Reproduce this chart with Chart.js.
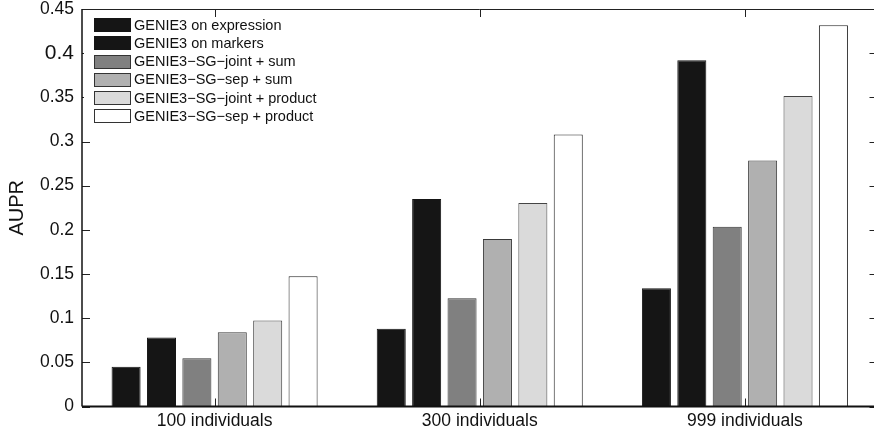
<!DOCTYPE html>
<html lang="en">
<head>
    <meta charset="UTF-8">
    <title>AUPR by number of individuals</title>
    <script src="https://cdn.jsdelivr.net/npm/chart.js"></script>
    <style>
        body { margin: 0; overflow: hidden; background: #fff; }
    </style>
</head>
<body>
<canvas id="aupr" width="886" height="434"></canvas>
<script>
    // Sample sizes on the x axis
    const groups = ['100 individuals', '300 individuals', '999 individuals'];

    // One series per method
    const seriesNames = [
        'GENIE3 on expression',
        'GENIE3 on markers',
        'GENIE3\u2212SG\u2212joint + sum',
        'GENIE3\u2212SG\u2212sep + sum',
        'GENIE3\u2212SG\u2212joint + product',
        'GENIE3\u2212SG\u2212sep + product'
    ];
    const onExpression   = [0.045, 0.088, 0.134];
    const onMarkers      = [0.078, 0.235, 0.392];
    const sgJointSum     = [0.0545, 0.1225, 0.2035];
    const sgSepSum       = [0.084, 0.1895, 0.2785];
    const sgJointProduct = [0.0975, 0.2305, 0.3515];
    const sgSepProduct   = [0.1475, 0.308, 0.4315];

    const yTicks = [0, 0.05, 0.1, 0.15, 0.2, 0.25, 0.3, 0.35, 0.4, 0.45];

    const fills   = ['#151515', '#151515', '#808080', '#b0b0b0', '#dadada', '#ffffff'];
    const borders = ['#151515', '#151515', '#333333', '#3a3a3a', '#444444', '#222222'];
    const FONT = '"Liberation Sans", Arial, Helvetica, sans-serif';

    const values = [onExpression, onMarkers, sgJointSum, sgSepSum, sgJointProduct, sgSepProduct];
    const datasets = values.map((v, i) => ({
        label: seriesNames[i],
        data: v,
        backgroundColor: fills[i],
        borderColor: borders[i],
        borderWidth: 1,
        categoryPercentage: 0.801,
        barPercentage: 0.82
    }));

    // box, inward ticks on all four sides and the legend inside the plot
    const framePlugin = {
        id: 'frame',
        afterDatasetsDraw(chart) {
            const { ctx, chartArea: a, scales: { x, y } } = chart;
            const line = (x1, y1, x2, y2) => {
                ctx.beginPath(); ctx.moveTo(x1, y1); ctx.lineTo(x2, y2); ctx.stroke();
            };
            ctx.save();
            ctx.strokeStyle = '#222';
            ctx.lineWidth = 1;
            line(a.left, a.top + 0.5, a.right, a.top + 0.5);
            line(a.right - 0.5, a.top, a.right - 0.5, a.bottom);

            y.ticks.forEach(t => {
                const py = Math.round(y.getPixelForValue(t.value)) + 0.5;
                line(a.left, py, a.left + 8, py);
                line(a.right - 8, py, a.right, py);
            });
            x.ticks.forEach((t, i) => {
                const px = Math.round(x.getPixelForValue(i)) + 0.5;
                line(px, a.bottom, px, a.bottom - 8);
                line(px, a.top, px, a.top + 8);
            });

            ctx.strokeStyle = '#111';
            ctx.lineWidth = 1.5;
            line(a.left, a.top, a.left, a.bottom);
            ctx.lineWidth = 2;
            line(a.left, a.bottom, a.right, a.bottom);

            // legend
            ctx.fillStyle = '#fff';
            ctx.fillRect(a.left + 2, 18, 262, 108);
            ctx.font = '14.5px ' + FONT;
            ctx.textBaseline = 'middle';
            ctx.lineWidth = 1;
            chart.data.datasets.forEach((ds, i) => {
                const cy = 24.7 + i * 18.2;
                ctx.fillStyle = ds.backgroundColor;
                ctx.fillRect(94.5, Math.round(cy - 6.5) + 0.5, 36, 13);
                ctx.strokeStyle = i < 2 ? '#151515' : '#333';
                ctx.strokeRect(94.5, Math.round(cy - 6.5) + 0.5, 36, 13);
                ctx.fillStyle = '#111';
                ctx.fillText(ds.label, 134, cy + 1);
            });
            ctx.restore();
        }
    };

    new Chart(document.getElementById('aupr'), {
        type: 'bar',
        data: { labels: groups, datasets: datasets },
        options: {
            responsive: false,
            animation: false,
            layout: { padding: { top: 9, right: 8.5, bottom: 0, left: 0 } },
            plugins: {
                legend: { display: false },
                tooltip: { enabled: false }
            },
            scales: {
                x: {
                    grid: { display: false, drawTicks: false },
                    border: { display: false },
                    ticks: {
                        color: '#111',
                        padding: 4,
                        font: { family: FONT, size: 17.5 }
                    },
                    afterFit(scale) {
                        scale.height = 27.5;
                        scale.paddingLeft = 0;
                        scale.paddingRight = 0;
                    }
                },
                y: {
                    min: 0,
                    max: 0.45,
                    grid: { display: false, drawTicks: false },
                    border: { display: false },
                    afterBuildTicks(scale) {
                        scale.ticks = yTicks.map(v => ({ value: v }));
                    },
                    ticks: {
                        color: '#111',
                        padding: 8,
                        callback: v => String(+v.toFixed(2)),
                        font: ctx => ({
                            family: FONT,
                            size: ctx.tick && Math.abs(ctx.tick.value - 0.4) < 1e-9 ? 21 : 17.5
                        })
                    },
                    title: {
                        display: true,
                        text: 'AUPR',
                        color: '#111',
                        padding: { top: 5.5, bottom: 0 },
                        font: { family: FONT, size: 20 }
                    },
                    afterFit(scale) {
                        scale.width = 82;
                        scale.paddingTop = 0;
                        scale.paddingBottom = 0;
                    }
                }
            }
        },
        plugins: [framePlugin]
    });
</script>
</body>
</html>
